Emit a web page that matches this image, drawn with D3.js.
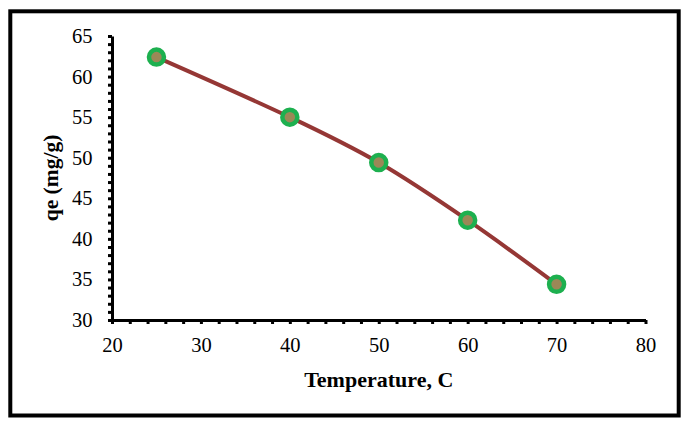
<!DOCTYPE html>
<html>
<head>
<meta charset="utf-8">
<script src="https://cdn.jsdelivr.net/npm/d3@7"></script>
<style>
  html, body { margin: 0; padding: 0; background: #fff; }
  svg { display: block; }
</style>
</head>
<body>
<svg id="chart" width="691" height="426"></svg>
<script>
const temperatures = [25, 40, 50, 60, 70];
const qeValues = [62.4, 55.0, 49.4, 42.3, 34.4];
const xTickLabels = [20, 30, 40, 50, 60, 70, 80];
const yTickLabels = [30, 35, 40, 45, 50, 55, 60, 65];
const xMinorTicks = d3.range(20, 80.01, 2);
const yMinorTicks = d3.range(30, 65.01, 1);

const svg = d3.select("#chart");
const W = 691, H = 426;

svg.append("rect").attr("width", W).attr("height", H).attr("fill", "#fff");
// outer frame
svg.append("rect")
  .attr("x", 10.3).attr("y", 11.3)
  .attr("width", 668.4).attr("height", 404.2)
  .attr("fill", "none").attr("stroke", "#000").attr("stroke-width", 4);

const x = d3.scaleLinear().domain([20, 80]).range([112, 645.5]);
const y = d3.scaleLinear().domain([30, 65]).range([320, 36]);

const font = '"Liberation Serif"';

// X axis
const xAxis = d3.axisBottom(x).tickValues(xMinorTicks).tickSize(4).tickSizeOuter(0)
  .tickFormat(d => xTickLabels.includes(d) ? d : "");
const gx = svg.append("g").attr("transform", `translate(0,${y(30)})`).call(xAxis);
gx.attr("font-family", null).attr("font-size", null);
gx.select(".domain").attr("stroke", "#000").attr("stroke-width", 3);
gx.selectAll(".tick line").attr("stroke", "#000").attr("stroke-width", 3);
gx.selectAll(".tick text").attr("y", 32).attr("dy", 0)
  .style("font-family", font).style("font-size", "20.5px").attr("fill", "#000");

// Y axis
const yAxis = d3.axisLeft(y).tickValues(yMinorTicks).tickSize(4).tickSizeOuter(0)
  .tickFormat(d => yTickLabels.includes(d) ? d : "");
const gy = svg.append("g").attr("transform", `translate(${x(20)},0)`).call(yAxis);
gy.attr("font-family", null).attr("font-size", null);
gy.select(".domain").attr("stroke", "#000").attr("stroke-width", 3);
gy.selectAll(".tick line").attr("stroke", "#000").attr("stroke-width", 3);
gy.selectAll(".tick text").attr("x", -19.5)
  .style("font-family", font).style("font-size", "20.5px").attr("fill", "#000");

// Axis titles
svg.append("text")
  .attr("x", (x(20) + x(80)) / 2).attr("y", 387)
  .attr("text-anchor", "middle")
  .style("font-family", font).style("font-size", "22px").style("font-weight", "bold")
  .text("Temperature, C");

svg.append("text")
  .attr("transform", `translate(58,${(y(30) + y(65)) / 2}) rotate(-90)`)
  .attr("text-anchor", "middle")
  .style("font-family", font).style("font-size", "21.5px").style("font-weight", "bold")
  .text("qe (mg/g)");

// Line
const pts = temperatures.map((t, i) => [t, qeValues[i]]);
const line = d3.line()
  .x(d => x(d[0])).y(d => y(d[1]))
  .curve(d3.curveCardinal.tension(0));
svg.append("path").datum(pts)
  .attr("d", line)
  .attr("fill", "none").attr("stroke", "#953735").attr("stroke-width", 4);

// Markers
svg.selectAll("circle.pt").data(pts).join("circle")
  .attr("class", "pt")
  .attr("cx", d => x(d[0])).attr("cy", d => y(d[1]))
  .attr("r", 7.5)
  .attr("fill", "#9B8857")
  .attr("stroke", "#1DB04F").attr("stroke-width", 4.5);
</script>
</body>
</html>
